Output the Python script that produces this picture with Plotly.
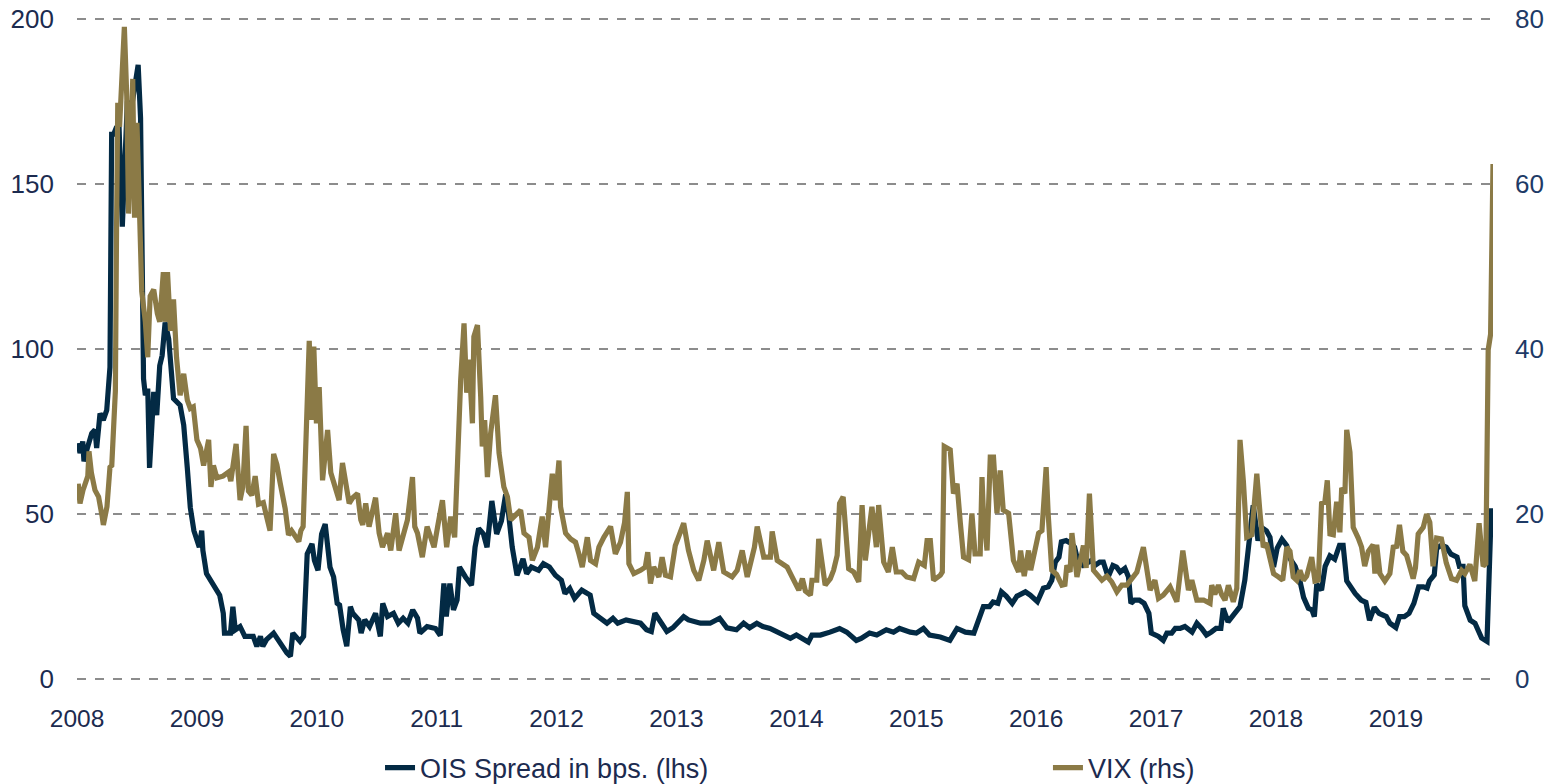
import plotly.graph_objects as go

# OIS spread (lhs, bps) - decimal year / value
ois_t = [2008.01, 2008.025, 2008.048, 2008.058, 2008.086, 2008.123, 2008.15, 2008.164, 2008.192, 2008.219,
         2008.248, 2008.275, 2008.289, 2008.306, 2008.328, 2008.35, 2008.378, 2008.40, 2008.42, 2008.45,
         2008.475, 2008.51, 2008.53, 2008.545, 2008.555, 2008.57, 2008.59, 2008.605, 2008.64, 2008.665,
         2008.69, 2008.71, 2008.735, 2008.765, 2008.78, 2008.805, 2008.86, 2008.89, 2008.92, 2008.945,
         2008.975, 2009.00, 2009.02, 2009.04, 2009.05, 2009.08, 2009.12, 2009.15, 2009.19, 2009.22,
         2009.23, 2009.28, 2009.30, 2009.32, 2009.36, 2009.40, 2009.47, 2009.50, 2009.53, 2009.55,
         2009.58, 2009.64, 2009.69, 2009.75, 2009.78, 2009.80, 2009.86, 2009.89, 2009.92, 2009.96,
         2009.98, 2010.01, 2010.04, 2010.07, 2010.11, 2010.14, 2010.17, 2010.19, 2010.22, 2010.25,
         2010.28, 2010.30, 2010.35, 2010.37, 2010.40, 2010.44, 2010.49, 2010.53, 2010.55, 2010.59,
         2010.64, 2010.68, 2010.72, 2010.76, 2010.80, 2010.84, 2010.86, 2010.92, 2010.99, 2011.03,
         2011.06, 2011.08, 2011.11, 2011.14, 2011.17, 2011.19, 2011.24, 2011.29, 2011.32, 2011.35,
         2011.39, 2011.42, 2011.46, 2011.50, 2011.54, 2011.575, 2011.60, 2011.63, 2011.67, 2011.69,
         2011.72, 2011.75, 2011.79, 2011.85, 2011.89, 2011.94, 2011.99, 2012.04, 2012.07, 2012.11,
         2012.15, 2012.21, 2012.28, 2012.31, 2012.36, 2012.42, 2012.47, 2012.51, 2012.58, 2012.64,
         2012.70, 2012.75, 2012.79, 2012.82, 2012.86, 2012.92, 2012.97, 2013.06, 2013.10, 2013.20,
         2013.28, 2013.36, 2013.42, 2013.50, 2013.56, 2013.61, 2013.67, 2013.72, 2013.78, 2013.87,
         2013.95, 2014.00, 2014.10, 2014.13, 2014.20, 2014.28, 2014.36, 2014.42, 2014.50, 2014.54,
         2014.61, 2014.67, 2014.75, 2014.81, 2014.86, 2014.95, 2015.00, 2015.06, 2015.11, 2015.20,
         2015.28, 2015.34, 2015.41, 2015.48, 2015.52, 2015.56, 2015.61, 2015.64, 2015.68, 2015.71,
         2015.75, 2015.80, 2015.84, 2015.91, 2015.95, 2016.01, 2016.06, 2016.10, 2016.13, 2016.16,
         2016.19, 2016.21, 2016.25, 2016.30, 2016.32, 2016.35, 2016.39, 2016.43, 2016.46, 2016.49,
         2016.53, 2016.56, 2016.60, 2016.64, 2016.67, 2016.70, 2016.74, 2016.77, 2016.79, 2016.82,
         2016.86, 2016.90, 2016.94, 2016.96, 2017.02, 2017.06, 2017.09, 2017.13, 2017.16, 2017.20,
         2017.24, 2017.30, 2017.34, 2017.38, 2017.42, 2017.46, 2017.50, 2017.54, 2017.56, 2017.60,
         2017.65, 2017.70, 2017.74, 2017.77, 2017.80, 2017.81, 2017.85, 2017.88, 2017.92, 2017.95,
         2017.98, 2018.01, 2018.05, 2018.09, 2018.12, 2018.16, 2018.20, 2018.23, 2018.27, 2018.30,
         2018.32, 2018.34, 2018.38, 2018.41, 2018.45, 2018.49, 2018.53, 2018.56, 2018.59, 2018.62,
         2018.66, 2018.71, 2018.75, 2018.78, 2018.82, 2018.86, 2018.92, 2018.95, 2019.00, 2019.03,
         2019.07, 2019.11, 2019.15, 2019.19, 2019.23, 2019.26, 2019.28, 2019.32, 2019.34, 2019.38,
         2019.42, 2019.46, 2019.51, 2019.53, 2019.56, 2019.575, 2019.62, 2019.66, 2019.69, 2019.715,
         2019.76, 2019.78, 2019.795, 2019.81]
ois_v = [71.5, 68.5, 72, 66, 70, 74.5, 75.5, 70, 80.5, 78.5,
         81.5, 94.5, 165, 165, 167, 168, 137, 160, 175, 172,
         178, 186, 170, 120, 91, 86, 88, 64, 87, 80,
         95, 98, 108, 103, 94, 85, 83, 77, 64, 52,
         45, 42.5, 40, 45, 39, 32, 29.5, 28, 25.5, 20,
         14, 14, 22, 15, 16, 13, 13, 10, 13, 10,
         12, 14, 11, 8, 7, 14, 11.5, 13, 38, 41,
         36, 33, 44, 47, 34, 31, 23, 22.5, 15, 10,
         22, 20, 18, 14, 18, 16, 20, 13, 23, 19,
         20, 17, 18.5, 17, 21, 18.5, 14, 16, 15.4, 13.3,
         29, 19, 29, 21, 24, 34, 31, 28.5, 40, 45.7,
         44, 40, 54, 44, 48, 56, 50, 40, 31.5, 34,
         36.5, 32, 34, 33, 35, 34, 31.5, 30, 26, 27.5,
         24.5, 27, 25.5, 20, 18.5, 17, 18.5, 17, 18, 17.5,
         17, 15, 14.5, 20, 17.5, 14.5, 15.6, 19, 18, 17,
         17, 18.5, 15.6, 15, 17, 15.6, 17, 16, 15.4, 14,
         12.4, 13.4, 11.3, 13.4, 13.4, 14.3, 15.4, 14.3, 11.8, 12.4,
         14, 13.4, 15, 14.3, 15.4, 14.3, 14, 15.4, 13.4, 12.8,
         11.8, 15.4, 14.3, 14, 18, 22, 22, 23.4, 23, 26.5,
         25.2, 23, 25.2, 26.5, 25.5, 23.5, 27.6, 28, 30, 35.5,
         37, 41.6, 42, 41, 40, 35.5, 34.5, 35.5, 36, 34.5,
         35.5, 35.5, 31, 34.5, 34, 32.5, 33.6, 31, 23, 24,
         24, 23, 20, 14, 13, 11.8, 14, 14, 15.4, 15.4,
         16, 14.3, 17, 15.4, 13.4, 14.3, 15.4, 15.4, 21.5, 17.4,
         20, 22, 30, 40, 50, 52.7, 42, 46, 45, 43,
         34, 39.7, 42.4, 40.5, 36.4, 34.2, 29.8, 24.8, 21.5, 21,
         19, 28.8, 27, 34.2, 37.4, 36.4, 40.6, 40.6, 29.8, 28,
         26, 24, 23.3, 17.9, 21.8, 20, 19, 17, 15.7, 19,
         19, 20, 23, 28, 28, 27.6, 29.8, 31.6, 39.7, 40.6,
         40, 37.9, 37, 34.2, 34.2, 22.3, 17.9, 17, 14.7, 12.5,
         11.5, 33, 51, 51]

# VIX (rhs) - decimal year / value
vix_t = [2008.01, 2008.025, 2008.05, 2008.09, 2008.10, 2008.12, 2008.15, 2008.18, 2008.21, 2008.22,
         2008.25, 2008.275, 2008.29, 2008.32, 2008.33, 2008.34, 2008.355, 2008.395, 2008.415, 2008.43,
         2008.45, 2008.465, 2008.48, 2008.50, 2008.515, 2008.54, 2008.57, 2008.59, 2008.61, 2008.64,
         2008.67, 2008.69, 2008.72, 2008.735, 2008.755, 2008.78, 2008.805, 2008.83, 2008.86, 2008.89,
         2008.92, 2008.945, 2008.97, 2009.00, 2009.03, 2009.056, 2009.098, 2009.117, 2009.138, 2009.167,
         2009.217, 2009.264, 2009.283, 2009.327, 2009.36, 2009.383, 2009.41, 2009.43, 2009.458, 2009.486,
         2009.514, 2009.554, 2009.583, 2009.61, 2009.64, 2009.667, 2009.694, 2009.736, 2009.764, 2009.79,
         2009.85, 2009.867, 2009.886, 2009.91, 2009.937, 2009.956, 2009.975, 2009.997, 2010.02, 2010.048,
         2010.09, 2010.117, 2010.158, 2010.186, 2010.214, 2010.27, 2010.30, 2010.34, 2010.367, 2010.383,
         2010.408, 2010.436, 2010.49, 2010.52, 2010.548, 2010.59, 2010.617, 2010.658, 2010.686, 2010.725,
         2010.756, 2010.798, 2010.817, 2010.84, 2010.88, 2010.92, 2010.978, 2011.008, 2011.048, 2011.083,
         2011.117, 2011.15, 2011.173, 2011.20, 2011.228, 2011.25, 2011.27, 2011.298, 2011.31, 2011.34,
         2011.367, 2011.38, 2011.40, 2011.423, 2011.45, 2011.49, 2011.52, 2011.56, 2011.59, 2011.617,
         2011.70, 2011.728, 2011.77, 2011.798, 2011.84, 2011.88, 2011.908, 2011.936, 2011.964, 2011.99,
         2012.02, 2012.033, 2012.075, 2012.117, 2012.158, 2012.186, 2012.214, 2012.256, 2012.283, 2012.325,
         2012.353, 2012.394, 2012.45, 2012.49, 2012.533, 2012.567, 2012.59, 2012.603, 2012.644, 2012.70,
         2012.74, 2012.76, 2012.783, 2012.81, 2012.853, 2012.88, 2012.908, 2012.95, 2012.99, 2013.06,
         2013.10, 2013.144, 2013.186, 2013.228, 2013.256, 2013.31, 2013.353, 2013.394, 2013.464, 2013.506,
         2013.548, 2013.59, 2013.65, 2013.673, 2013.728, 2013.783, 2013.798, 2013.84, 2013.923, 2013.964,
         2014.00, 2014.02, 2014.05, 2014.075, 2014.117, 2014.13, 2014.17, 2014.186, 2014.24, 2014.283,
         2014.31, 2014.34, 2014.36, 2014.39, 2014.436, 2014.478, 2014.52, 2014.548, 2014.575, 2014.603,
         2014.63, 2014.667, 2014.686, 2014.728, 2014.767, 2014.80, 2014.833, 2014.88, 2014.92, 2014.978,
         2015.02, 2015.067, 2015.09, 2015.117, 2015.144, 2015.20, 2015.217, 2015.233, 2015.283, 2015.31,
         2015.34, 2015.367, 2015.394, 2015.436, 2015.464, 2015.49, 2015.533, 2015.548, 2015.56, 2015.59,
         2015.617, 2015.644, 2015.673, 2015.70, 2015.725, 2015.77, 2015.81, 2015.853, 2015.87, 2015.90,
         2015.936, 2015.954, 2016.02, 2016.048, 2016.083, 2016.10, 2016.13, 2016.17, 2016.214, 2016.24,
         2016.256, 2016.283, 2016.298, 2016.34, 2016.394, 2016.417, 2016.444, 2016.478, 2016.548, 2016.59,
         2016.63, 2016.673, 2016.714, 2016.756, 2016.79, 2016.84, 2016.894, 2016.923, 2016.95, 2016.99,
         2017.02, 2017.06, 2017.117, 2017.173, 2017.223, 2017.27, 2017.298, 2017.34, 2017.396, 2017.45,
         2017.464, 2017.49, 2017.52, 2017.546, 2017.575, 2017.603, 2017.644, 2017.673, 2017.70, 2017.728,
         2017.756, 2017.798, 2017.84, 2017.867, 2017.894, 2017.92, 2017.964, 2017.98, 2018.02, 2018.056,
         2018.09, 2018.117, 2018.144, 2018.173, 2018.20, 2018.228, 2018.256, 2018.298, 2018.325, 2018.353,
         2018.38, 2018.408, 2018.428, 2018.45, 2018.478, 2018.506, 2018.533, 2018.548, 2018.575, 2018.59,
         2018.617, 2018.644, 2018.686, 2018.714, 2018.74, 2018.77, 2018.81, 2018.825, 2018.84, 2018.867,
         2018.908, 2018.95, 2018.978, 2019.006, 2019.03, 2019.058, 2019.09, 2019.117, 2019.144, 2019.163,
         2019.186, 2019.228, 2019.256, 2019.283, 2019.31, 2019.34, 2019.38, 2019.42, 2019.464, 2019.506,
         2019.548, 2019.575, 2019.617, 2019.658, 2019.694, 2019.728, 2019.75, 2019.77, 2019.79, 2019.81]
vix_v = [23.7, 21.3, 22.9, 24.6, 27.6, 25, 22.9, 22.1, 19.7, 18.7,
         20.9, 25.7, 25.9, 34.9, 54.8, 69.8, 66.9, 79, 70.6, 56.4,
         65, 72.7, 55.9, 67.4, 60, 47, 43.3, 39, 46.4, 47.2,
         44.3, 43.3, 49.3, 43.3, 49.3, 42.2, 46, 39, 34.4, 37,
         33.8, 32.8, 33, 29, 28, 25.9, 29, 23.3, 25.9, 24.4,
         24.6, 25.1, 24, 28.5, 21.7, 23.3, 30.7, 22.8, 22.3, 24.6,
         21.2, 21.4, 19.6, 18, 27.3, 26, 23.8, 20.7, 17.5, 18,
         16.7, 18, 18.5, 28.5, 41, 31.4, 40.3, 31, 35.4, 24.1,
         30.2, 25, 23.3, 21.7, 26.2, 21.3, 22, 22.5, 19.3, 18.7,
         21.3, 18.5, 22, 17.7, 16, 17.7, 15.6, 20.1, 15.6, 17.7,
         19.3, 24.5, 18.5, 17.7, 14.8, 18.5, 16, 18.5, 21.7, 16,
         19.7, 17.2, 28.2, 36.2, 43.1, 34.7, 38.7, 31, 41.5, 42.9,
         34.2, 28.2, 31.4, 24.5, 29.8, 34.4, 27.4, 23.3, 22.1, 19.3,
         20.5, 17.7, 17.2, 14.4, 16, 19.7, 16, 20.1, 24.9, 21.7,
         26.5, 20.9, 17.7, 17, 16.6, 15.2, 13.6, 17.2, 14.4, 14,
         16, 17.2, 18.5, 15.2, 16.6, 19, 22.7, 14, 12.8, 13.2,
         13.6, 15.4, 11.6, 13.6, 12.4, 14.8, 12.6, 12.4, 16.2, 18.9,
         15.6, 13.2, 12, 14.4, 16.8, 13.2, 16.6, 13, 12.4, 13.2,
         15.6, 12.4, 16, 18.5, 14.8, 14.8, 17.9, 14.4, 13.6, 12.4,
         11.5, 10.8, 12.2, 10.7, 10.2, 12, 12, 17, 11.4, 12.2,
         13.2, 15, 21.3, 22.1, 13.4, 13, 11.8, 21.1, 14.4, 17.9,
         20.9, 16, 21.1, 14.2, 13, 16, 13, 13, 12.4, 12.2,
         14.2, 13.8, 16.8, 16.8, 12, 12.6, 13, 28.2, 27.8, 22.5,
         23.7, 19, 14.8, 14.5, 20.1, 15.2, 15.2, 24.5, 20, 15.6,
         26.9, 26.9, 20.1, 25.3, 20.5, 20.1, 14.4, 13, 15.6, 12.5,
         15.6, 13.2, 17.7, 18, 25.7, 20, 13.2, 12.7, 11.4, 11.5,
         13.8, 13, 17.7, 12.4, 16.2, 13.5, 22.5, 13.2, 12, 12.5,
         11.8, 10.6, 11.4, 11.4, 12, 13, 16, 13, 10.8, 12,
         9.8, 10.2, 11.2, 9.4, 15.6, 10.8, 12, 9.6, 9.6, 9.2,
         11.4, 10.3, 11.4, 10.3, 9.6, 11.4, 9.4, 11, 29, 24,
         17.2, 17.5, 24.9, 20.1, 16, 16.5, 13.6, 12.8, 12.4, 12,
         16, 15.5, 12.4, 12, 13.2, 12, 12.5, 14.8, 11.9, 12,
         21.3, 21.5, 24.1, 17.6, 17.5, 21.5, 17.8, 23.2, 22.5, 30.2,
         27.5, 18.4, 17.1, 16, 13.7, 15.5, 16.3, 12.8, 16.3, 12.8,
         11.9, 12.8, 16, 16.1, 18.7, 15.5, 15, 13.5, 12.2, 13.5,
         17.6, 18.4, 20, 19, 13.7, 17.1, 17, 14.1, 12.2, 12,
         13.2, 12.8, 13.9, 11.9, 18.9, 13.7, 14, 39.9, 41.8, 62.4]

x_ticks = [2008, 2009, 2010, 2011, 2012, 2013, 2014, 2015, 2016, 2017, 2018, 2019]
y_left_ticks = [0, 50, 100, 150, 200]
y_right_ticks = [0, 20, 40, 60, 80]

OIS_COLOR = "#032a44"
VIX_COLOR = "#8b7a46"
TXT = "#1c2b4f"
FONT = "Liberation Sans, Arial, sans-serif"

fig = go.Figure()
fig.add_trace(go.Scatter(x=ois_t, y=ois_v, name="OIS Spread in bps. (lhs)", mode="lines",
                         line=dict(color=OIS_COLOR, width=5.2), yaxis="y", legend="legend"))
fig.add_trace(go.Scatter(x=vix_t, y=vix_v, name="VIX (rhs)", mode="lines",
                         line=dict(color=VIX_COLOR, width=5.2), yaxis="y2", legend="legend2"))

legend_common = dict(orientation="h", xanchor="left", yanchor="middle", y=-0.131,
                     font=dict(size=27, color=TXT), bgcolor="rgba(0,0,0,0)")

fig.update_layout(
    width=1558, height=784,
    margin=dict(l=77, r=65, t=17, b=103, autoexpand=False),
    paper_bgcolor="white", plot_bgcolor="white",
    font=dict(family=FONT, color=TXT),
    hovermode=False,
    xaxis=dict(range=[2008, 2019.81], tickvals=x_ticks, ticktext=[str(v) for v in x_ticks],
               showgrid=False, zeroline=False, showline=False, ticks="", automargin=False,
               ticklabeloverflow="allow",
               tickfont=dict(size=24.5, color=TXT), ticklabelstandoff=20),
    yaxis=dict(range=[-0.5, 200.5], tickvals=y_left_ticks, showgrid=True, gridcolor="#8c8c8c",
               griddash="dash", gridwidth=1.5, zeroline=False, showline=False, ticks="",
               automargin=False, ticklabeloverflow="allow",
               tickfont=dict(size=26, color=TXT), ticklabelstandoff=22),
    yaxis2=dict(range=[-0.2, 80.2], tickvals=y_right_ticks, overlaying="y", side="right",
                showgrid=False, zeroline=False, showline=False, ticks="", automargin=False,
                ticklabeloverflow="allow",
                tickfont=dict(size=26, color="#1e3a66"), ticklabelstandoff=21),
    legend=dict(x=0.214, **legend_common),
    legend2=dict(x=0.6857, **legend_common),
    showlegend=True,
)

# remove the browser's default 8px page margin so the figure fills the window exactly
fig.write_html("out.html",
               config={"displayModeBar": False},
               post_script="document.body.style.margin='0';document.body.style.overflow='hidden';")
